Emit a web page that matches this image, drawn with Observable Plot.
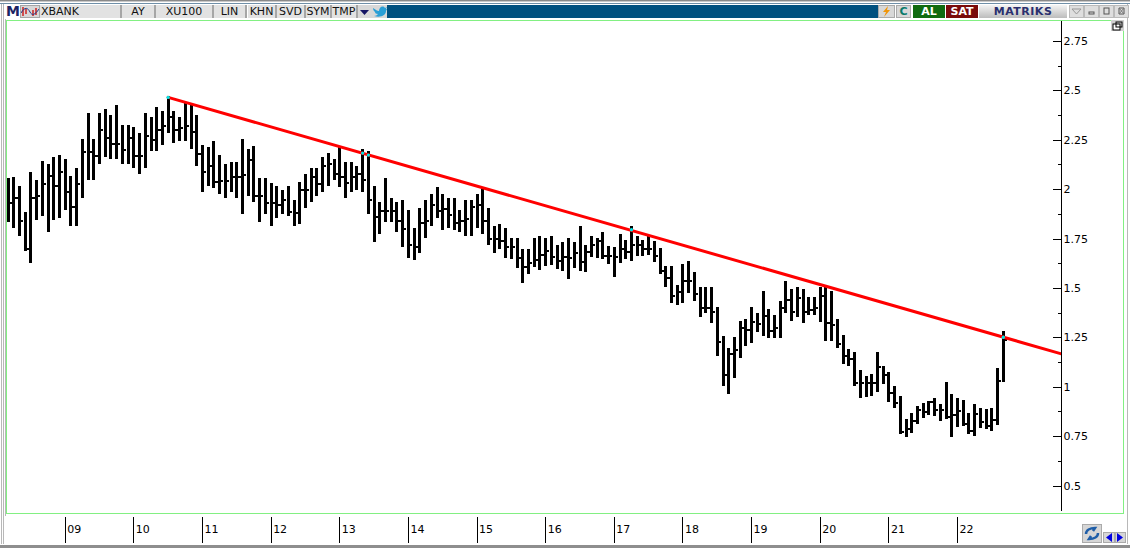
<!DOCTYPE html>
<html>
<head>
<meta charset="utf-8">
<script src="https://cdn.jsdelivr.net/npm/d3@7"></script>
<script src="https://cdn.jsdelivr.net/npm/@observablehq/plot@0.6"></script>
<style>
html,body{margin:0;padding:0;background:#fff;overflow:hidden}
#wrap{position:relative;width:1130px;height:548px;background:#fff;overflow:hidden;font-family:"DejaVu Sans",sans-serif}
#wrap svg.plot{position:absolute;left:0;top:0}
.c{position:absolute;box-sizing:border-box;white-space:nowrap;font-size:11px;line-height:13px;color:#111;text-align:center}
.cell{background:#e2e2e2;border-right:2px solid #a6a6a6;top:5px;height:13px}
</style>
</head>
<body>
<div id="wrap"></div>
<script>
const highs = [
2.05,2.055,2.01,1.88,2.08,2.04,2.14,2.12,2.16,2.17,
2.15,2.06,2.10,2.25,2.38,2.25,2.38,2.40,2.37,2.42,
2.32,2.32,2.31,2.28,2.38,2.36,2.41,2.39,2.465,2.39,
2.36,2.435,2.42,2.37,2.22,2.21,2.24,2.17,2.12,2.13,
2.13,2.25,2.20,2.215,2.05,2.05,2.025,2.01,1.99,2.01,
1.94,2.03,2.07,2.10,2.10,2.16,2.18,2.15,2.21,2.13,
2.13,2.11,2.20,2.19,2.01,1.93,2.05,1.95,1.93,1.94,
1.89,1.80,1.90,1.94,1.97,2.005,1.97,1.95,1.95,1.89,
1.94,1.94,1.97,2.00,1.90,1.81,1.82,1.80,1.75,1.75,
1.69,1.69,1.75,1.76,1.75,1.76,1.71,1.73,1.75,1.73,
1.81,1.71,1.76,1.75,1.78,1.706,1.70,1.77,1.74,1.81,
1.76,1.74,1.76,1.735,1.695,1.605,1.605,1.51,1.615,1.63,
1.575,1.50,1.50,1.50,1.40,1.25,1.19,1.245,1.33,1.34,
1.40,1.37,1.48,1.39,1.36,1.43,1.53,1.49,1.50,1.49,
1.45,1.45,1.50,1.50,1.48,1.34,1.255,1.185,1.17,1.08,
1.05,1.06,1.17,1.10,1.07,1.00,.95,.83,.86,.895,
.915,.925,.94,.91,1.02,.957,.936,.93,.86,.905,
.885,.88,.885,1.09,1.275];
const lows = [
1.84,1.81,1.77,1.69,1.63,1.85,1.87,1.79,1.85,1.86,
1.90,1.82,1.82,1.96,2.05,2.05,2.13,2.17,2.16,2.16,
2.13,2.13,2.11,2.08,2.11,2.20,2.20,2.23,2.29,2.24,
2.25,2.25,2.21,2.12,1.99,2.02,2.01,1.98,1.96,1.99,
1.96,1.88,1.97,1.94,1.84,1.88,1.82,1.86,1.88,1.87,
1.82,1.83,1.91,1.94,1.97,1.99,2.02,2.05,2.015,1.96,
1.99,2.00,1.99,1.88,1.74,1.78,1.84,1.84,1.79,1.71,
1.655,1.645,1.68,1.76,1.82,1.86,1.80,1.81,1.80,1.79,
1.77,1.77,1.81,1.78,1.72,1.68,1.70,1.655,1.65,1.605,
1.53,1.575,1.61,1.595,1.615,1.62,1.60,1.59,1.55,1.605,
1.59,1.585,1.66,1.655,1.65,1.625,1.56,1.63,1.65,1.64,
1.665,1.665,1.67,1.635,1.575,1.51,1.43,1.42,1.43,1.48,
1.44,1.36,1.38,1.33,1.16,1.01,.97,1.05,1.15,1.21,
1.225,1.28,1.26,1.25,1.25,1.25,1.38,1.34,1.36,1.33,
1.37,1.37,1.335,1.235,1.235,1.20,1.12,1.11,1.01,.95,
.955,.96,.977,1.02,.93,.895,.765,.75,.77,.815,
.845,.86,.855,.83,.84,.75,.80,.805,.765,.755,
.795,.79,.78,.81,1.03];
const closes = [
1.93,1.96,1.84,1.70,1.96,1.97,2.03,2.07,2.02,2.09,
1.99,1.91,2.03,2.19,2.19,2.17,2.30,2.26,2.23,2.23,
2.20,2.26,2.17,2.17,2.27,2.25,2.30,2.32,2.37,2.30,
2.31,2.32,2.29,2.18,2.09,2.12,2.04,2.045,2.045,2.065,
2.065,2.075,2.15,1.97,1.97,1.93,1.93,1.92,1.95,1.885,
1.88,2.00,2.00,2.065,2.03,2.12,2.13,2.08,2.065,2.035,
2.065,2.08,2.05,1.95,1.86,1.89,1.89,1.89,1.84,1.80,
1.72,1.71,1.83,1.84,1.92,1.89,1.90,1.87,1.83,1.84,
1.85,1.91,1.92,1.84,1.75,1.75,1.74,1.71,1.71,1.655,
1.61,1.63,1.645,1.67,1.69,1.66,1.64,1.66,1.655,1.68,
1.635,1.686,1.72,1.74,1.665,1.665,1.66,1.70,1.685,1.72,
1.72,1.70,1.70,1.665,1.59,1.555,1.46,1.48,1.54,1.54,
1.47,1.40,1.40,1.38,1.23,1.06,1.17,1.19,1.30,1.29,
1.33,1.32,1.36,1.285,1.30,1.40,1.44,1.38,1.45,1.38,
1.39,1.40,1.46,1.325,1.315,1.22,1.16,1.145,1.02,1.02,
1.02,1.02,1.10,1.06,.97,.92,.775,.79,.83,.885,
.875,.925,.885,.885,.85,.86,.88,.815,.78,.865,
.825,.805,.835,1.03,1.24];

const yearLabels = ["09","10","11","12","13","14","15","16","17","18","19","20","21","22"];
const yearStarts = [10,22,34,46,58,70,82,94,106,118,130,142,154,166];
const yTicks = [0.5,0.75,1,1.25,1.5,1.75,2,2.25,2.5,2.75];
const yMinor = [0.625,0.875,1.125,1.375,1.625,1.875,2.125,2.375,2.625];
const trendX = [28,184];
const trendY = [2.467,1.17];
const touchX = [28,62,63,109,174];
const touchY = [2.467,2.185,2.175,1.797,1.253];

const bars = highs.map((h,i)=>({i,high:h,low:lows[i],close:closes[i]}));
const axisX = 184.26;
const bold = "#000";

const chart = Plot.plot({
  width:1130, height:548,
  marginLeft:7.5, marginRight:70, marginTop:41, marginBottom:62.5,
  x:{type:"linear",domain:[0,184],axis:null},
  y:{type:"linear",domain:[0.5,2.75],axis:null},
  style:{background:"transparent",fontFamily:"'DejaVu Sans',sans-serif",fontSize:"11px",color:"#000"},
  marks:[
    Plot.ruleX(bars,{x:"i",y1:"low",y2:"high",stroke:bold,strokeWidth:1,shapeRendering:"crispEdges"}),
    Plot.ruleX(bars,{x:"i",y1:"low",y2:"high",stroke:bold,strokeWidth:3,insetTop:1,insetBottom:1,shapeRendering:"crispEdges"}),
    Plot.ruleY(bars,{y:"close",x1:"i",x2:d=>d.i+0.75,stroke:bold,strokeWidth:2,shapeRendering:"crispEdges"}),
    Plot.line(trendX.map((x,k)=>({x,y:trendY[k]})),{x:"x",y:"y",stroke:"#ff0000",strokeWidth:3}),
    Plot.dot(touchX.map((x,k)=>({x,y:touchY[k]})),{x:"x",y:"y",r:1.7,fill:"#00e5e5",stroke:"none"}),
    // price axis
    Plot.ruleX([axisX],{y1:0.37,y2:2.85,stroke:"#000",shapeRendering:"crispEdges"}),
    Plot.ruleY(yTicks,{y:d=>d,x1:axisX-1.4,x2:axisX,stroke:"#000",shapeRendering:"crispEdges"}),
    Plot.ruleY(yMinor,{y:d=>d,x1:axisX-0.6,x2:axisX,stroke:"#000",shapeRendering:"crispEdges"}),
    Plot.axisY(yTicks,{anchor:"right",tickSize:0,tickPadding:3,label:null,tickFormat:d=>String(d),fontSize:11,fill:"#000"}),
    // time axis
    Plot.ruleX(yearStarts,{x:d=>d,y1:0.34,y2:0.21,stroke:"#000",shapeRendering:"crispEdges"}),
    Plot.text(yearStarts,{x:d=>d,y:0.28,text:(d,k)=>yearLabels[k],textAnchor:"start",dx:2,fontSize:11,fill:"#000"})
  ]
});
chart.setAttribute("class",(chart.getAttribute("class")||"")+" plot");

const wrap = document.getElementById("wrap");
function el(style,text,cls){
  const d=document.createElement("div");
  d.className=cls||"c";
  d.style.cssText=style;
  if(text!=null) d.innerHTML=text;
  wrap.appendChild(d);
  return d;
}
// outer frame
el("left:0;top:0;width:1130px;height:1px;background:#8a8a8a");
el("left:0;top:1px;width:1130px;height:1px;background:#c8c8c8");
el("left:0;top:3px;width:1130px;height:1px;background:#6f8fa8");
el("left:1px;top:4px;width:1px;height:540px;background:#b8b8b8");
el("left:3px;top:4px;width:1px;height:540px;background:#b8b8b8");
el("left:5px;top:19px;width:1px;height:497px;background:#b8b8b8");
el("left:0;top:545px;width:1130px;height:3px;background:#8e8e8e");
el("left:1127px;top:4px;width:1px;height:540px;background:#b8b8b8");
// plot panel (green frame)
el("left:6px;top:20px;width:1118px;height:494px;border:1px solid #82f082;background:#fff");
// toolbar
el("left:387px;top:5px;width:491px;height:13px;background:#00507f");
el("left:6px;top:4px;width:13px;height:14px;font:bold 14px/14px 'DejaVu Sans';color:#1c2363;text-align:left","M");
el("left:20px;top:5px;width:20px;height:13px;background:#d8d8d8;border:1px solid #a6a6a6",
 '<svg width="18" height="11" style="position:absolute;left:0;top:0"><path d="M2 1v9M5 3v5M12 4v6M15 2v7" stroke="#c22" stroke-width="1.5"/><path d="M0 7C4 0 7 2 9 6S14 9 18 3" fill="none" stroke="#223a8a"/></svg>');
const cells=[[40,82,"XBANK","left;padding-left:1px"],[122,34,"AY"],[156,58,"XU100"],[214,33,"LIN"],[248,29,"KHN"],[277,29,"SVD"],[306,26,"SYM"],[332,26,"TMP"]];
for(const [x,w,t,a] of cells) el(`left:${x}px;width:${w}px;text-align:${a?a:"center"}`,t,"c cell");
el("left:358px;top:5px;width:14px;height:13px;background:#d8d8d8",
 '<svg width="14" height="13" style="position:absolute;left:0;top:0"><path d="M2 5h9l-4.500 5z" fill="#141464"/></svg>');
el("left:372px;top:5px;width:15px;height:13px;background:#d8d8d8",
 '<svg width="15" height="13" style="position:absolute;left:0;top:0"><path d="M1 3c3 2 4 3 6 3 0-4 4-6 6-3l2-1-1 2 1 0-1 2c0 4-5 7-12 5 2 0 3-1 4-2-2 0-3-1-3-2-1-1-2-2-2-4z" fill="#2a9fd6"/></svg>');
// right-hand buttons
el("left:878px;top:5px;width:17px;height:13px;background:#d8d8d8;border:1px solid #aaa",
 '<svg width="15" height="11" style="position:absolute;left:0;top:0"><path d="M9 0L4 6h3l-2 5 6-7H8z" fill="#f0960a"/></svg>');
el("left:896px;top:5px;width:15px;height:13px;background:#d8d8d8;border:1px solid #aaa;font:bold 11px/11px 'DejaVu Sans';color:#0a7a6a","C");
el("left:913px;top:5px;width:32px;height:13px;background:#0f6a0f;color:#fff;font-weight:bold","AL");
el("left:946px;top:5px;width:32px;height:13px;background:#7a0a0a;color:#fff;font-weight:bold","SAT");
el("left:979px;top:5px;width:88px;height:13px;background:linear-gradient(#f4f4f4,#bcbcbc);color:#2a2f6e;font-weight:bold;letter-spacing:.5px","MATRIKS");
el("left:1069px;top:5px;width:15px;height:13px;background:#dedede;border:1px solid #bbb",
 '<svg width="13" height="11" style="position:absolute;left:0;top:0"><path d="M2 3h9L6.500 8z" fill="none" stroke="#999"/></svg>');
el("left:1084px;top:5px;width:15px;height:13px;background:#dedede;border:1px solid #bbb",
 '<svg width="13" height="11" style="position:absolute;left:0;top:0"><rect x="4" y="6" width="5" height="2" fill="none" stroke="#555"/></svg>');
el("left:1099px;top:5px;width:15px;height:13px;background:#dedede;border:1px solid #bbb",
 '<svg width="13" height="11" style="position:absolute;left:0;top:0"><rect x="4" y="2" width="5" height="6" fill="none" stroke="#555"/></svg>');
el("left:1114px;top:5px;width:15px;height:13px;background:#dedede;border:1px solid #bbb",
 '<svg width="13" height="11" style="position:absolute;left:0;top:0"><path d="M4 2h5v6H4z" fill="none" stroke="#555"/><path d="M4 2l5 6M9 2l-5 6" stroke="#777"/></svg>');
// small restore button at top right of panel
el("left:1111px;top:20px;width:13px;height:11px;background:#d0d0d0",
 '<svg width="13" height="11" style="position:absolute;left:0;top:0"><rect x="2" y="4" width="7" height="6" fill="#fff" stroke="#000"/><rect x="5" y="2" width="6" height="5" fill="none" stroke="#000"/></svg>');
wrap.appendChild(chart);
// lower-right buttons
el("left:1082px;top:524px;width:20px;height:19px;background:#d6d6d6;border:1px solid #aaa",
 '<svg width="18" height="17" style="position:absolute;left:0;top:0"><path d="M3 9c0-4 4-6 9-6l-2 3M15 8c0 4-4 6-9 6l2-3" fill="none" stroke="#1f5ea8" stroke-width="2.500"/></svg>');
el("left:1103px;top:532px;width:12px;height:11px;background:#d6d6d6;border:1px solid #aaa",
 '<svg width="10" height="9" style="position:absolute;left:0;top:0"><path d="M8 0v9L2 4.500z" fill="#0000e0"/></svg>');
el("left:1115px;top:532px;width:11px;height:11px;background:#d6d6d6;border:1px solid #aaa",
 '<svg width="9" height="9" style="position:absolute;left:0;top:0"><path d="M1 0v9l6-4.500z" fill="#0000e0"/></svg>');
</script>
</body>
</html>
